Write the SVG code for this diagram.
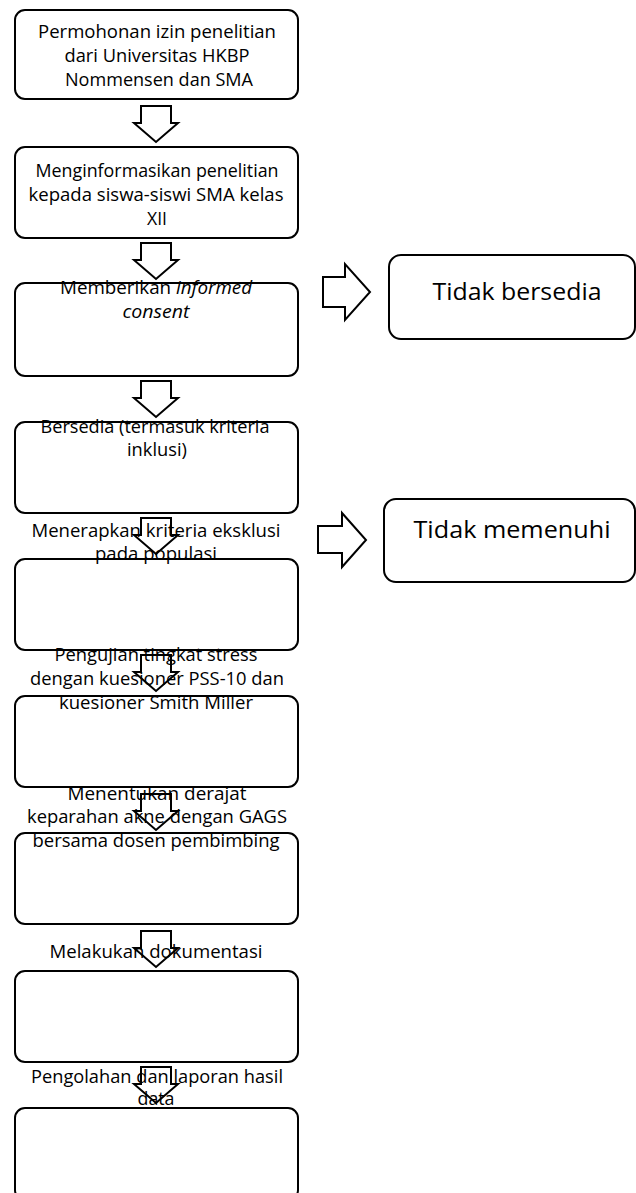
<svg xmlns="http://www.w3.org/2000/svg" width="636" height="1193" viewBox="0 0 636 1193">
<style>
.box{fill:none;stroke:#000;stroke-width:2}
.arr{fill:none;stroke:#000;stroke-width:2;stroke-linejoin:miter}
.t{font-family:"Open Sans","Liberation Sans",sans-serif;font-size:18px;fill:#000;text-anchor:middle}
.tb{font-family:"Open Sans","Liberation Sans",sans-serif;font-size:24px;fill:#000;text-anchor:middle}
.i{font-style:italic}
</style>
<rect width="636" height="1193" fill="#fff"/>
<g id="connectors">
<path class="arr" d="M141,106 H171 V123 H178 L156,142 L134,123 H141 Z"/>
<path class="arr" d="M141,243 H171 V260 H178 L156,279 L134,260 H141 Z"/>
<path class="arr" d="M141,381 H171 V398 H178 L156,417 L134,398 H141 Z"/>
<path class="arr" d="M141,518 H171 V535 H178 L156,554 L134,535 H141 Z"/>
<path class="arr" d="M141,655 H171 V672 H178 L156,691 L134,672 H141 Z"/>
<path class="arr" d="M141,794 H171 V811 H178 L156,830 L134,811 H141 Z"/>
<path class="arr" d="M141,931 H171 V948 H178 L156,967 L134,948 H141 Z"/>
<path class="arr" d="M141,1067 H171 V1084 H178 L156,1103 L134,1084 H141 Z"/>
<path class="arr" d="M323,277 H345 V264 L370,292 L345,320 V307 H323 Z"/>
<path class="arr" d="M318,526 H342 V513 L366,540 L342,567 V553 H318 Z"/>
</g>
<g id="n1">
<rect class="box" x="15" y="10" width="283" height="89" rx="10"/>
<text class="t" x="157" y="38" textLength="238" lengthAdjust="spacingAndGlyphs">Permohonan izin penelitian</text>
<text class="t" x="157" y="62" textLength="185" lengthAdjust="spacingAndGlyphs">dari Universitas HKBP</text>
<text class="t" x="159" y="86" textLength="188" lengthAdjust="spacingAndGlyphs">Nommensen dan SMA</text>
</g>
<g id="n2">
<rect class="box" x="15" y="147" width="283" height="91" rx="10"/>
<text class="t" x="157" y="177" textLength="243" lengthAdjust="spacingAndGlyphs">Menginformasikan penelitian</text>
<text class="t" x="156" y="201" textLength="255" lengthAdjust="spacingAndGlyphs">kepada siswa-siswi SMA kelas</text>
<text class="t" x="157" y="225" textLength="20" lengthAdjust="spacingAndGlyphs">XII</text>
</g>
<g id="n3">
<rect class="box" x="15" y="283" width="283" height="93" rx="10"/>
<text class="t" x="156" y="294" textLength="192" lengthAdjust="spacingAndGlyphs">Memberikan <tspan class="i">informed</tspan></text>
<text class="t i" x="156" y="318" textLength="67" lengthAdjust="spacingAndGlyphs">consent</text>
</g>
<g id="n4">
<rect class="box" x="15" y="422" width="283" height="91" rx="10"/>
<text class="t" x="155" y="433" textLength="229" lengthAdjust="spacingAndGlyphs">Bersedia (termasuk kriteria</text>
<text class="t" x="157" y="456" textLength="60" lengthAdjust="spacingAndGlyphs">inklusi)</text>
</g>
<g id="n5">
<rect class="box" x="15" y="559" width="283" height="91" rx="10"/>
<text class="t" x="156" y="537" textLength="249" lengthAdjust="spacingAndGlyphs">Menerapkan kriteria eksklusi</text>
<text class="t" x="156" y="560" textLength="122" lengthAdjust="spacingAndGlyphs">pada populasi</text>
</g>
<g id="n6">
<rect class="box" x="15" y="696" width="283" height="91" rx="10"/>
<text class="t" x="156" y="661" textLength="203" lengthAdjust="spacingAndGlyphs">Pengujian tingkat stress</text>
<text class="t" x="157" y="685" textLength="254" lengthAdjust="spacingAndGlyphs">dengan kuesioner PSS-10 dan</text>
<text class="t" x="156" y="709" textLength="194" lengthAdjust="spacingAndGlyphs">kuesioner Smith Miller</text>
</g>
<g id="n7">
<rect class="box" x="15" y="833" width="283" height="91" rx="10"/>
<text class="t" x="157" y="800" textLength="179" lengthAdjust="spacingAndGlyphs">Menentukan derajat</text>
<text class="t" x="157" y="823" textLength="260" lengthAdjust="spacingAndGlyphs">keparahan akne dengan GAGS</text>
<text class="t" x="156" y="847" textLength="247" lengthAdjust="spacingAndGlyphs">bersama dosen pembimbing</text>
</g>
<g id="n8">
<rect class="box" x="15" y="971" width="283" height="91" rx="10"/>
<text class="t" x="156" y="958" textLength="213" lengthAdjust="spacingAndGlyphs">Melakukan dokumentasi</text>
</g>
<g id="n9">
<rect class="box" x="15" y="1108" width="283" height="92" rx="10"/>
<text class="t" x="157" y="1083" textLength="252" lengthAdjust="spacingAndGlyphs">Pengolahan dan laporan hasil</text>
<text class="t" x="156" y="1105" textLength="37" lengthAdjust="spacingAndGlyphs">data</text>
</g>
<g id="r1">
<rect class="box" x="389" y="255" width="246" height="84" rx="12"/>
<text class="tb" x="517" y="300" textLength="169" lengthAdjust="spacingAndGlyphs">Tidak bersedia</text>
</g>
<g id="r2">
<rect class="box" x="384" y="499" width="251" height="83" rx="12"/>
<text class="tb" x="512" y="538" textLength="197" lengthAdjust="spacingAndGlyphs">Tidak memenuhi</text>
</g>
</svg>
